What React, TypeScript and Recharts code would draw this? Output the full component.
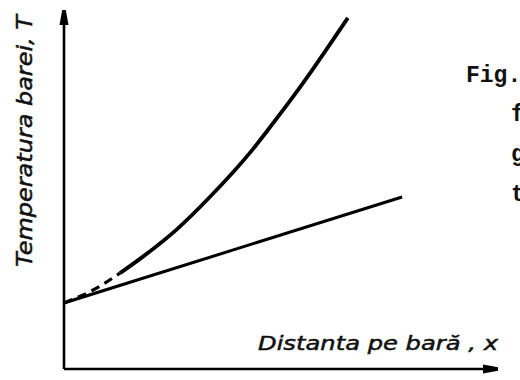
import { LineChart, Line, XAxis, YAxis, Customized } from "recharts";

// straight profile: temperature grows linearly along the bar
const linearX = [0, 77.9];
const linearT = [18.4, 47.9];

// curved profile, first stretch drawn dashed
const curveDashX = [0, 6.7, 12.9];
const curveDashT = [18.4, 22.0, 26.7];
const curveX = [12.9, 18.2, 26.0, 33.6, 43.3, 46.8, 54.4, 65.4];
const curveT = [26.7, 31.3, 38.9, 47.9, 60.9, 66.3, 78.5, 97.8];

const yTitle = "Temperatura barei, T";
const xTitle = "Distanta pe bară , x";
const captionLines = ["Fig.", "f", "g", "t"];

const toRows = (xs: number[], ts: number[]) => xs.map((x, i) => ({ x, t: ts[i] }));

const hand = "'DejaVu Sans', sans-serif";
const typewriter = "'Liberation Mono', monospace";

function Texts() {
  return (
    <g fill="#111">
      <g stroke="#111" strokeWidth={0.5}>
        <text
          transform="translate(32, 267) rotate(-90)"
          fontFamily={hand}
          fontStyle="italic"
          fontSize={22}
          textLength={252}
          lengthAdjust="spacingAndGlyphs"
        >
          {yTitle}
        </text>
        <text
          x={258}
          y={350}
          fontFamily={hand}
          fontStyle="italic"
          fontSize={20}
          textLength={240}
          lengthAdjust="spacingAndGlyphs"
        >
          {xTitle}
        </text>
      </g>
      <text x={466} y={82} fontFamily={typewriter} fontWeight="bold" fontSize={23}>
        {captionLines[0]}
      </text>
      {captionLines.slice(1).map((s, i) => (
        <text key={s} x={511} y={121 + i * 40} fontFamily={typewriter} fontWeight="bold" fontSize={23}>
          {s}
        </text>
      ))}
    </g>
  );
}

export default function App() {
  const axisLine = { stroke: "#000", strokeWidth: 2.6 };
  return (
    <div style={{ position: "absolute", left: 0, top: 0, background: "#fff" }}>
      <LineChart width={520} height={380} margin={{ top: 10, right: 22, bottom: 10, left: 63 }}>
        <defs>
          <marker
            id="arrow"
            viewBox="-16 -6 17 12"
            markerWidth={17}
            markerHeight={12}
            refX={0}
            refY={0}
            markerUnits="userSpaceOnUse"
            orient="auto-start-reverse"
          >
            <path d="M -15 -4.5 L 0 -1.8 L 0 1.8 L -15 4.5 Z" fill="#000" />
          </marker>
        </defs>
        <XAxis
          type="number"
          dataKey="x"
          domain={[0, 100]}
          height={1}
          tick={false}
          tickLine={false}
          axisLine={{ ...axisLine, markerEnd: "url(#arrow)" }}
          allowDataOverflow
        />
        <YAxis
          type="number"
          dataKey="t"
          domain={[0, 100]}
          width={1}
          tick={false}
          tickLine={false}
          axisLine={{ ...axisLine, markerStart: "url(#arrow)" }}
          allowDataOverflow
        />
        <Line
          data={toRows(linearX, linearT)}
          dataKey="t"
          type="linear"
          stroke="#000"
          strokeWidth={3}
          dot={false}
          isAnimationActive={false}
        />
        <Line
          data={toRows(curveDashX, curveDashT)}
          dataKey="t"
          type="monotone"
          stroke="#000"
          strokeWidth={3.2}
          strokeDasharray="9 6"
          dot={false}
          isAnimationActive={false}
        />
        <Line
          data={toRows(curveX, curveT)}
          dataKey="t"
          type="monotone"
          stroke="#000"
          strokeWidth={3.8}
          dot={false}
          isAnimationActive={false}
        />
        <Customized component={Texts} />
      </LineChart>
    </div>
  );
}
